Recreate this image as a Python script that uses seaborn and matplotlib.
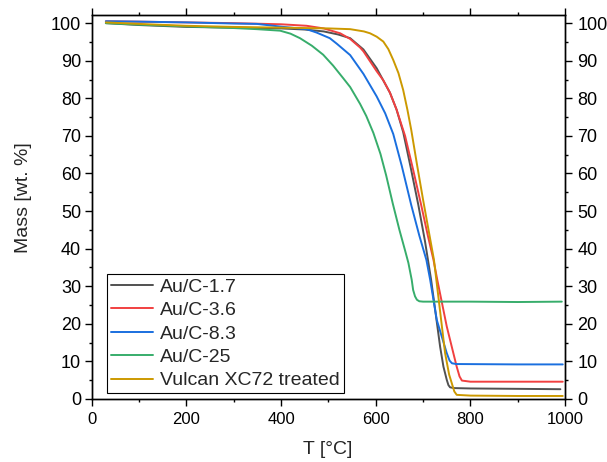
import matplotlib
matplotlib.use("Agg")
import matplotlib.pyplot as plt
from matplotlib.ticker import MultipleLocator
import pandas as pd
import seaborn as sns

# ---- data ----
labels = ["Au/C-1.7", "Au/C-3.6", "Au/C-8.3", "Au/C-25", "Vulcan XC72 treated"]
colors = ["#515151", "#F14040", "#1A6FDF", "#37AD6B", "#CC9900"]

t_17 = [30, 100, 200, 300, 400, 450, 490, 520, 546, 574, 602, 630, 644, 658, 674, 690, 704, 717, 736, 743, 750, 753.5, 757, 765, 800, 900, 990]
m_17 = [100.0, 99.5, 99.0, 98.8, 98.6, 98.3, 97.8, 97.0, 96.0, 93.0, 88.0, 81.5, 77.0, 71.0, 61.5, 51.6, 42.0, 31.7, 13.9, 8.6, 5.1, 3.7, 3.1, 2.9, 2.8, 2.7, 2.6]

t_36 = [30, 100, 200, 300, 400, 454, 490, 525, 546, 567, 574, 602, 616, 630, 644, 662, 679, 696, 710, 722, 730, 750, 771, 777, 782, 800, 900, 995]
m_36 = [100.5, 100.4, 100.2, 100.0, 99.7, 99.3, 98.6, 97.3, 95.8, 93.5, 92.5, 87.2, 84.8, 81.5, 77.0, 70.0, 61.0, 51.6, 43.5, 37.0, 31.7, 19.3, 8.6, 6.0, 4.9, 4.6, 4.6, 4.6]

t_83 = [30, 100, 200, 300, 349, 405, 454, 475, 503, 518, 546, 560, 574, 602, 620, 637, 655, 675, 692, 707, 715, 729, 750, 756, 761, 770, 900, 995]
m_83 = [100.5, 100.4, 100.2, 99.9, 99.8, 99.0, 98.4, 97.5, 96.0, 94.5, 91.5, 89.0, 86.5, 80.5, 76.0, 70.5, 62.0, 51.6, 43.5, 37.0, 31.7, 21.0, 12.2, 10.2, 9.5, 9.3, 9.2, 9.2]

t_25 = [30, 100, 208, 300, 349, 398, 420, 440, 465, 489, 510, 531, 546, 567, 580, 595, 610, 622, 636, 650, 662, 669, 676, 679, 683, 687, 692, 700, 800, 900, 993]
m_25 = [100.0, 99.6, 99.1, 98.7, 98.4, 98.0, 97.2, 96.0, 94.0, 91.6, 88.7, 85.4, 83.0, 78.5, 75.3, 70.8, 65.2, 59.5, 52.0, 45.0, 39.5, 36.2, 31.7, 29.0, 27.3, 26.4, 26.0, 25.9, 25.9, 25.8, 25.9]

t_vx = [30, 100, 200, 300, 400, 500, 546, 575, 588, 602, 616, 626.6, 637, 648, 658, 667, 675, 687, 700, 723, 746.5, 755, 760.6, 766, 771, 800, 900, 995]
m_vx = [100.2, 99.8, 99.3, 99.0, 98.8, 98.6, 98.4, 97.8, 97.3, 96.4, 95.1, 93.1, 90.2, 86.7, 82.2, 76.9, 71.6, 62.5, 53.0, 37.0, 12.2, 6.5, 4.2, 2.0, 1.1, 0.9, 0.8, 0.8]

series = [(t_17, m_17), (t_36, m_36), (t_83, m_83), (t_25, m_25), (t_vx, m_vx)]
frames = []
for lab, (t, m) in zip(labels, series):
    frames.append(pd.DataFrame({"T": t, "Mass": m, "Sample": lab}))
df = pd.concat(frames, ignore_index=True)

# ---- plot ----
sns.set_theme(style="ticks")
plt.rcParams["font.family"] = ["Liberation Sans", "DejaVu Sans"]

fig = plt.figure(figsize=(6.07, 4.62), dpi=100)
ax = fig.add_axes([0.151, 0.1364, 0.78, 0.8322])

sns.lineplot(data=df, x="T", y="Mass", hue="Sample", hue_order=labels,
             palette=dict(zip(labels, colors)), linewidth=1.4, sort=False,
             estimator=None, ax=ax)

ylim = (0, 102.3)
ax.set_xlim(0, 1000)
ax.set_ylim(*ylim)
ax.xaxis.set_major_locator(MultipleLocator(200))
ax.xaxis.set_minor_locator(MultipleLocator(100))
ax.yaxis.set_major_locator(MultipleLocator(10))
ax.yaxis.set_minor_locator(MultipleLocator(5))
ax.tick_params(which="both", direction="out", top=True, right=False,
               labelright=False, labeltop=False, colors="black")
ax.tick_params(which="major", length=4.8, width=1.0)
ax.tick_params(which="minor", length=2.4, width=1.0)
ax.tick_params(axis="x", which="major", labelsize=12, pad=4.5)
ax.tick_params(axis="y", which="major", labelsize=13, pad=2.8)

# right-hand axis mirroring the left one
ax2 = ax.twinx()
ax2.set_ylim(*ylim)
ax2.yaxis.set_major_locator(MultipleLocator(10))
ax2.yaxis.set_minor_locator(MultipleLocator(5))
ax2.tick_params(which="both", direction="out", colors="black")
ax2.tick_params(which="major", length=4.8, width=1.0, labelsize=13, pad=4.2)
ax2.tick_params(which="minor", length=2.4, width=1.0)
ax2.grid(False)

for a in (ax, ax2):
    for s in a.spines.values():
        s.set_visible(True)
        s.set_color("black")
        s.set_linewidth(1.0)

ax.set_xlabel("T [°C]", fontsize=14)
ax.set_ylabel("Mass [wt. %]", fontsize=14)
ax.xaxis.set_label_coords(0.498, -0.108)
ax.yaxis.set_label_coords(-0.127, 0.523)

leg = ax.legend(loc="lower left", bbox_to_anchor=(0.0317, 0.0148), frameon=True,
                fancybox=False, edgecolor="black", fontsize=14,
                handlelength=2.2, handletextpad=0.34, labelspacing=0.3,
                borderpad=0.2, borderaxespad=0)
leg.get_frame().set_linewidth(0.8)
leg.get_frame().set_alpha(1)

fig.savefig("out.png", dpi=100)
